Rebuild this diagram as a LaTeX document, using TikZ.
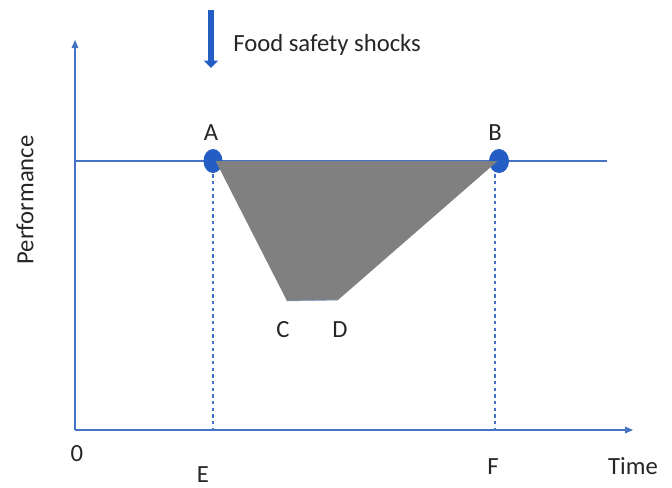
\documentclass[tikz,border=0pt]{standalone}
\usepackage{fontspec}
\setmainfont{Carlito}
\usetikzlibrary{arrows.meta}
\definecolor{lineblue}{RGB}{68,114,196}
\definecolor{dotblue}{RGB}{36,94,196}
\definecolor{shadegray}{RGB}{128,128,128}
\tikzset{
  axisline/.style={draw=lineblue, line width=0.8pt, -{Triangle[length=6pt,width=5pt]}},
  perfline/.style={draw=lineblue, line width=0.8pt},
  guide/.style={draw=lineblue, line width=0.8pt, dash pattern=on 2.5pt off 2.5pt},
  pt/.style={fill=dotblue},
  lab/.style={font=\fontsize{18.5}{21}\selectfont, text=black!85, inner sep=0pt},
  shock/.style={draw=dotblue, line width=4pt, -{Triangle[length=5.5pt,width=10.5pt]}}
}
\begin{document}
\begin{tikzpicture}[x=0.75pt,y=-0.75pt]
\useasboundingbox (0,0) rectangle (672,487);
% coordinates
\coordinate (O) at (75,430);
\coordinate (Ytop) at (75,40);
\coordinate (Xend) at (633,430);
\coordinate (Pstart) at (75,161);
\coordinate (Pend) at (607,161);
\coordinate (A) at (213,161);
\coordinate (B) at (499,161);
\coordinate (Bd) at (495,161);
\coordinate (C) at (287,301);
\coordinate (D) at (338,300);
\coordinate (Ebot) at (213,430);
\coordinate (Fbot) at (495,430);
\coordinate (S1) at (211,10);
\coordinate (S2) at (211,68);
% axes
\draw[axisline] (O) -- (Ytop);
\draw[axisline] (O) -- (Xend);
% performance line
\draw[perfline] (Pstart) -- (Pend);
% guides
\draw[guide] (A) -- (Ebot);
\draw[guide] (Bd) -- (Fbot);
% dots
\fill[pt] (A) ellipse [x radius=9.5, y radius=12];
\fill[pt] (B) ellipse [x radius=10, y radius=12];
% loss triangle
\fill[shadegray] ([xshift=2]A) -- ([xshift=-1]B) -- (D) -- (C) -- cycle;
\draw[draw=lineblue!70, line width=0.4pt] (C) -- (D);
% shock arrow
\draw[shock] (S1) -- (S2);
% labels
\node[lab, anchor=base west] (shocktxt) at (233,51) {Food safety shocks};
\node[lab, anchor=base] (la) at (211,140) {A};
\node[lab, anchor=base] (lb) at (495,140) {B};
\node[lab, anchor=base] (lc) at (283,337) {C};
\node[lab, anchor=base] (ld) at (340,337) {D};
\node[lab, anchor=base] (l0) at (77,461) {0};
\node[lab, anchor=base] (le) at (203,482) {E};
\node[lab, anchor=base] (lf) at (493,474) {F};
\node[lab, anchor=base] (lt) at (633,474) {Time};
\node[lab, rotate=90] (lp) at (25,200) {Performance};
\end{tikzpicture}
\end{document}
